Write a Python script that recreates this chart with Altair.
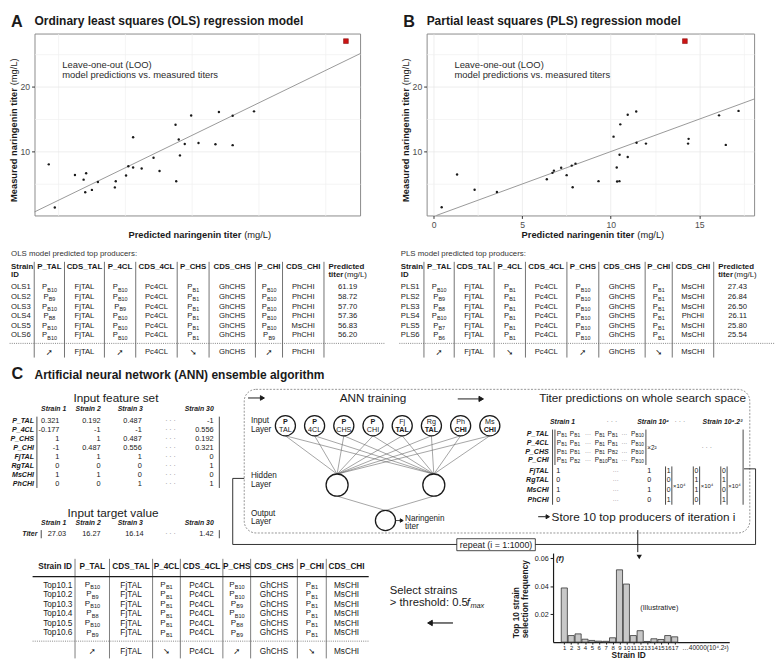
import altair as alt
import pandas as pd

FONT = "Liberation Sans"
SYM = "DejaVu Sans"
SX, SY = 0.975, 0.975
INK = "#1a1a1a"
ORIGIN_X = 26  # reference x of panel A's plot area; every row shares this origin

# ================= DATA =================
# Panel A / B : leave-one-out predicted vs measured naringenin titer (mg/L)
ols_predicted = [1.77, 2.22, 3.73, 4.38, 4.57, 4.50, 5.00, 5.45, 6.72, 6.79,
                 7.56, 7.73, 8.09, 8.09, 8.73, 9.62, 10.07, 11.27, 11.32, 11.51,
                 11.60, 11.96, 12.44, 12.99, 14.26, 14.52, 15.55, 15.55, 17.15]
ols_measured = [8.03, 1.38, 6.40, 5.67, 6.65, 3.74, 4.09, 5.32, 4.48, 5.42,
                6.31, 7.73, 7.54, 12.20, 7.39, 9.06, 7.00, 14.14, 5.42, 11.87,
                9.41, 11.18, 15.57, 11.33, 11.13, 16.10, 15.52, 10.99, 16.20]
pls_predicted = [0.45, 1.32, 2.31, 3.57, 6.39, 6.71, 6.79, 7.20, 7.51, 7.80,
                 7.85, 8.01, 9.31, 10.16, 10.34, 10.36, 10.49, 10.50, 10.54, 10.96,
                 10.96, 11.44, 11.46, 11.99, 14.37, 14.40, 16.12, 16.50, 17.22]
pls_measured = [1.42, 6.47, 4.12, 3.77, 5.74, 6.72, 7.06, 7.50, 6.37, 7.84,
                4.51, 8.14, 5.44, 12.30, 7.55, 5.39, 5.44, 9.51, 14.20, 9.17,
                15.69, 16.18, 11.37, 11.23, 11.23, 11.96, 15.59, 11.03, 16.27]
best_measured = 27.03
ols_best_predicted = 24.04
pls_best_predicted = 14.19

# Tables
table_headers = ["P_TAL", "CDS_TAL", "P_4CL", "CDS_4CL", "P_CHS", "CDS_CHS", "P_CHI", "CDS_CHI"]
ols_rows = [
    ["OLS1", "B10", "FjTAL", "B10", "Pc4CL", "B1", "GhCHS", "B10", "PhCHI", "61.19"],
    ["OLS2", "B9", "FjTAL", "B10", "Pc4CL", "B1", "GhCHS", "B10", "PhCHI", "58.72"],
    ["OLS3", "B10", "FjTAL", "B9", "Pc4CL", "B1", "GhCHS", "B10", "PhCHI", "57.70"],
    ["OLS4", "B8", "FjTAL", "B10", "Pc4CL", "B1", "GhCHS", "B10", "PhCHI", "57.36"],
    ["OLS5", "B10", "FjTAL", "B10", "Pc4CL", "B1", "GhCHS", "B10", "MsCHI", "56.83"],
    ["OLS6", "B10", "FjTAL", "B10", "Pc4CL", "B1", "GhCHS", "B9", "PhCHI", "56.20"],
]
ols_trend = ["up", "FjTAL", "up", "Pc4CL", "down", "GhCHS", "up", "PhCHI"]
pls_rows = [
    ["PLS1", "B10", "FjTAL", "B1", "Pc4CL", "B10", "GhCHS", "B1", "MsCHI", "27.43"],
    ["PLS2", "B9", "FjTAL", "B1", "Pc4CL", "B10", "GhCHS", "B1", "MsCHI", "26.84"],
    ["PLS3", "B8", "FjTAL", "B1", "Pc4CL", "B10", "GhCHS", "B1", "MsCHI", "26.50"],
    ["PLS4", "B10", "FjTAL", "B1", "Pc4CL", "B10", "GhCHS", "B1", "PhCHI", "26.11"],
    ["PLS5", "B7", "FjTAL", "B1", "Pc4CL", "B10", "GhCHS", "B1", "MsCHI", "25.80"],
    ["PLS6", "B6", "FjTAL", "B1", "Pc4CL", "B10", "GhCHS", "B1", "MsCHI", "25.54"],
]
pls_trend = ["up", "FjTAL", "down", "Pc4CL", "up", "GhCHS", "down", "MsCHI"]
ann_rows = [
    ["Top10.1", "B10", "FjTAL", "B1", "Pc4CL", "B10", "GhCHS", "B1", "MsCHI"],
    ["Top10.2", "B9", "FjTAL", "B1", "Pc4CL", "B10", "GhCHS", "B1", "MsCHI"],
    ["Top10.3", "B10", "FjTAL", "B1", "Pc4CL", "B9", "GhCHS", "B1", "MsCHI"],
    ["Top10.4", "B8", "FjTAL", "B1", "Pc4CL", "B10", "GhCHS", "B1", "MsCHI"],
    ["Top10.5", "B10", "FjTAL", "B1", "Pc4CL", "B8", "GhCHS", "B1", "MsCHI"],
    ["Top10.6", "B9", "FjTAL", "B1", "Pc4CL", "B9", "GhCHS", "B1", "MsCHI"],
]
ann_trend = ["up", "FjTAL", "down", "Pc4CL", "up", "GhCHS", "down", "MsCHI"]

# Panel C input feature set
feature_names = ["P_TAL", "P_4CL", "P_CHS", "P_CHI", "FjTAL", "RgTAL", "MsCHI", "PhCHI"]
strain_headers = ["Strain 1", "Strain 2", "Strain 3", "Strain 30"]
strain1 = [0.321, -0.177, 1, -1, 1, 0, 1, 0]
strain2 = [0.192, -1, 1, 0.487, 1, 0, 1, 0]
strain3 = [0.487, -1, 0.487, 0.556, 1, 0, 0, 1]
strain30 = [-1, 0.556, 0.192, 0.321, 0, 1, 0, 1]
target_titers = [27.03, 16.27, 16.14, 1.42]

node_labels = [("P", "TAL", True), ("P", "4CL", True), ("P", "CHS", True), ("P", "CHI", True),
               ("Fj", "TAL", False), ("Rg", "TAL", False), ("Ph", "CHI", False), ("Ms", "CHI", False)]
space_promoters = [["B1", "B1", "B1", "B1", "B10"],
                   ["B1", "B1", "B1", "B1", "B10"],
                   ["B1", "B1", "B1", "B2", "B10"],
                   ["B1", "B2", "B10", "B1", "B10"]]
space_binary_first = [1, 0, 1, 0]
space_binary_last = [1, 0, 1, 0]
space_vectors = [[1, 0, 0, 1], [0, 1, 1, 0], [0, 1, 0, 1]]

# Selection frequency (illustrative)
strain_ids = list(range(1, 18))
selection_freq = [0.0388, 0.0047, 0.0059, 0.0021, 0.0012, 0.0007, 0.0006, 0.0031, 0.0518,
                  0.0416, 0.0047, 0.0082, 0.0005, 0.0024, 0.0019, 0.0047, 0.0038]

ARROWS = {"up": "\u279a", "down": "\u2798"}


def fmt(v):
    return f"{v:g}"


# ================= canvas helper =================
class Canvas:
    def __init__(self, y0, w, h):
        self.x0, self.y0 = ORIGIN_X, y0
        self.W, self.H = w * SX, h * SY
        self.texts, self.segs, self.paths, self.points, self.rects = [], [], [], [], []

    def X(self, x):
        return (x - self.x0) * SX

    def Y(self, y):
        return (y - self.y0) * SY

    def text(self, x, y, s, size=7.6, weight="normal", style="normal", align="left",
             baseline="middle", color=INK, angle=0, font=FONT):
        self.texts.append({"x": self.X(x), "y": self.Y(y), "s": s, "size": size, "color": color,
                           "k": (weight, style, align, baseline, angle, font)})

    def seg(self, x1, y1, x2, y2, color=INK, width=0.8, dash=None):
        self.segs.append({"x": self.X(x1), "y": self.Y(y1), "x2": self.X(x2), "y2": self.Y(y2),
                          "k": (color, width, tuple(dash) if dash else ())})

    def path(self, pts, color=INK, width=0.8, dash=None, interp="linear"):
        gid = len(self.paths)
        self.paths.append(([{"x": self.X(x), "y": self.Y(y), "o": i, "g": gid}
                            for i, (x, y) in enumerate(pts)],
                           (color, width, tuple(dash) if dash else (), interp)))

    def point(self, x, y, shape="circle", size=30, fill=INK, stroke=INK, sw=1.0):
        self.points.append({"x": self.X(x), "y": self.Y(y), "size": size,
                            "k": (shape, fill, stroke, sw)})

    def rect(self, x1, y1, x2, y2, fill="white", fo=1.0, stroke=INK, sw=0.8, dash=None, radius=0):
        self.rects.append({"x": self.X(x1), "y": self.Y(y1), "x2": self.X(x2), "y2": self.Y(y2),
                           "k": (fill, fo, stroke, sw, tuple(dash) if dash else (), radius)})

    def chart(self):
        xs = alt.Scale(domain=[0, self.W], range=[0, self.W], nice=False, zero=False)
        ys = alt.Scale(domain=[0, self.H], range=[0, self.H], nice=False, zero=False)
        X = alt.X("x:Q", scale=xs, axis=None)
        Y = alt.Y("y:Q", scale=ys, axis=None)
        layers = []

        def grouped(items):
            g = {}
            for it in items:
                g.setdefault(it["k"], []).append({k: v for k, v in it.items() if k != "k"})
            return g

        for (fill, fo, stroke, sw, dash, rad), items in grouped(self.rects).items():
            kw = dict(fill=fill, fillOpacity=fo, stroke=stroke, strokeWidth=sw, cornerRadius=rad)
            if dash:
                kw["strokeDash"] = list(dash)
            layers.append(alt.Chart(pd.DataFrame(items)).mark_rect(**kw).encode(
                x=X, y=Y, x2="x2:Q", y2="y2:Q"))
        for (color, width, dash), items in grouped(self.segs).items():
            kw = dict(color=color, strokeWidth=width)
            if dash:
                kw["strokeDash"] = list(dash)
            layers.append(alt.Chart(pd.DataFrame(items)).mark_rule(**kw).encode(
                x=X, y=Y, x2="x2:Q", y2="y2:Q"))
        pg = {}
        for pts, key in self.paths:
            pg.setdefault(key, []).extend(pts)
        for (color, width, dash, interp), items in pg.items():
            kw = dict(color=color, strokeWidth=width, interpolate=interp)
            if dash:
                kw["strokeDash"] = list(dash)
            layers.append(alt.Chart(pd.DataFrame(items)).mark_line(**kw).encode(
                x=X, y=Y, detail="g:N", order="o:Q"))
        for (shape, fill, stroke, sw), items in grouped(self.points).items():
            layers.append(alt.Chart(pd.DataFrame(items)).mark_point(
                shape=shape, filled=True, fill=fill, stroke=stroke, strokeWidth=sw, opacity=1,
                fillOpacity=1).encode(x=X, y=Y, size=alt.Size("size:Q", scale=None)))
        for (weight, style, align, baseline, angle, font), items in grouped(self.texts).items():
            layers.append(alt.Chart(pd.DataFrame(items)).mark_text(
                font=font, fontWeight=weight, fontStyle=style, align=align, baseline=baseline,
                angle=angle).encode(x=X, y=Y, text="s:N",
                                    size=alt.Size("size:Q", scale=None),
                                    color=alt.Color("color:N", scale=None)))
        return alt.layer(*layers).properties(width=self.W, height=self.H)


def prom_width(sub, size, sub_size):
    return 0.667 * size + 0.3 + (0.667 + 0.556 * (len(sub) - 1)) * sub_size


def promoter(cv, x, y, sub, size=7.8, sub_size=5.5, center=True):
    w = prom_width(sub, size, sub_size)
    x0 = x - w / 2 if center else x
    cv.text(x0, y, "P", size=size)
    cv.text(x0 + 0.667 * size + 0.3, y + size * 0.3, sub, size=sub_size)


# ================= ROW 1: scatter plots =================
def scatter(pred, meas, best_pred, xdom, xvals, w_ref, letter, title):
    w, h = w_ref * SX, 190 * SY
    ydom = [0.15, 28.2]
    xsc = alt.Scale(domain=xdom, nice=False, zero=False)
    ysc = alt.Scale(domain=ydom, nice=False, zero=False)
    mx = "datum.value % 5 === 0"
    my = "datum.value % 10 === 0"
    common = dict(title=None, domain=False, tickSize=3, tickColor="#333", labelColor="#4d4d4d",
                  labelFontSize=8.8, labelPadding=2, labelFont=FONT, gridWidth=0.7,
                  labelFlush=False)
    xaxis = alt.Axis(values=xvals, labelExpr=f"{mx} ? datum.label : ''",
                     tickOpacity={"condition": {"test": mx, "value": 1}, "value": 0},
                     gridColor={"condition": {"test": mx, "value": "#e4e4e4"}, "value": "#f1f1f1"},
                     **common)
    yaxis = alt.Axis(values=[5, 10, 15, 20, 25], labelExpr=f"{my} ? datum.label : ''",
                     tickOpacity={"condition": {"test": my, "value": 1}, "value": 0},
                     gridColor={"condition": {"test": my, "value": "#e4e4e4"}, "value": "#f1f1f1"},
                     **common)
    pts = alt.Chart(pd.DataFrame({"pred": pred, "meas": meas})).mark_circle(
        size=6, color="#1a1a1a", opacity=1).encode(
        x=alt.X("pred:Q", scale=xsc, axis=xaxis), y=alt.Y("meas:Q", scale=ysc, axis=yaxis))
    lo, hi = max(xdom[0], ydom[0]), min(xdom[1], ydom[1])
    line = alt.Chart(pd.DataFrame({"pred": [lo, hi], "meas": [lo, hi]})).mark_line(
        color="#8c8c8c", strokeWidth=0.9).encode(x="pred:Q", y="meas:Q")
    best = alt.Chart(pd.DataFrame({"pred": [best_pred], "meas": [best_measured]})).mark_square(
        size=24, color="#cc1414", opacity=1, stroke="#7a0000", strokeWidth=0.5).encode(
        x="pred:Q", y="meas:Q")
    one = pd.DataFrame({"t": [0]})

    def tx(x, y, s, size, weight="normal", align="left", baseline="middle", angle=0, color=INK):
        return alt.Chart(one).mark_text(font=FONT, fontSize=size, fontWeight=weight, align=align,
                                        baseline=baseline, angle=angle, color=color).encode(
            x=alt.value(x * SX), y=alt.value(y * SY), text=alt.value(s))

    junc_x = w_ref / 2 + 47
    texts = [
        tx(-24.5, -6.5, letter, 16.5, "bold", baseline="alphabetic"),
        tx(0, -9, title, 12.2, "bold", baseline="alphabetic"),
        tx(29, 32.8, "Leave-one-out (LOO)", 9.6, color="#2b2b2b"),
        tx(29, 43.4, "model predictions vs. measured titers", 9.6, color="#2b2b2b"),
        tx(junc_x - 1, 210, "Predicted naringenin titer", 9.5, "bold", align="right"),
        tx(junc_x + 2, 210, "(mg/L)", 9.5, align="left"),
        tx(-21.3, 57, "Measured naringenin titer", 9.5, "bold", align="right", angle=270),
        tx(-21.3, 54, "(mg/L)", 9.5, align="left", angle=270),
    ]
    return alt.layer(line, pts, best, *texts).properties(
        width=w, height=h, view=alt.ViewBackground(stroke="#8a8a8a", strokeWidth=1))


chart_a = scatter(ols_predicted, ols_measured, ols_best_predicted, [0.7, 25.1],
                  [2.5, 5, 7.5, 10, 12.5, 15, 17.5, 20, 22.5, 25], 340, "A",
                  "Ordinary least squares (OLS) regression model")
chart_b = scatter(pls_predicted, pls_measured, pls_best_predicted, [-0.4, 18.1],
                  [0, 2.5, 5, 7.5, 10, 12.5, 15, 17.5], 342, "B",
                  "Partial least squares (PLS) regression model")
b_left_overflow = 21.3 * SX + 4.75
a_right_overflow = 3.5
row1_spacing = (435 - 26) * SX - 340 * SX - a_right_overflow - b_left_overflow
row1 = alt.hconcat(chart_a, chart_b, spacing=row1_spacing)

# ================= ROW 2: OLS / PLS tables =================
cv2 = Canvas(234.5, 784 - ORIGIN_X, 362 - 234.5)
COL_LINES = [25.7, 57.3, 99.0, 131.7, 175.0, 208.3, 256.7, 285.0, 328.3]


def model_table(cv, ox, caption, rows, trend):
    lines = [ox + v for v in COL_LINES]
    centers = [(lines[i] + lines[i + 1]) / 2 for i in range(8)]
    cv.text(ox + 1.5, 249, caption, size=8, color="#333")
    cv.text(ox + 1.5, 263, "Strain", size=8, weight="bold")
    cv.text(ox + 1.5, 271.5, "ID", size=8, weight="bold")
    for c, hname in zip(centers, table_headers):
        cv.text(c, 263, hname, size=8, weight="bold", align="center")
    cv.text(ox + 333, 263, "Predicted", size=8, weight="bold")
    cv.text(ox + 333, 271.5, "titer", size=8, weight="bold")
    cv.text(ox + 349.5, 271.5, "(mg/L)", size=8)
    for lx in lines:
        cv.seg(lx, 257.5, lx, 357.5, width=0.7, color="#333")
    for i, r in enumerate(rows):
        y = 284.3 + 10 * i
        cv.text(ox + 1.5, y, r[0], size=7.8)
        for j in range(8):
            if j % 2 == 0:
                promoter(cv, centers[j], y, r[1 + j])
            else:
                cv.text(centers[j], y, r[1 + j], size=7.8, align="center")
        cv.text(ox + 363, y, r[9], size=7.8, align="right")
    cv.seg(ox, 342.7, ox + 392, 342.7, dash=[1, 1.2], color="#666", width=0.8)
    for j, v in enumerate(trend):
        if j % 2 == 0:
            cv.text(centers[j], 351.7, ARROWS[v], size=8.5, align="center", font=SYM)
        else:
            cv.text(centers[j], 351.7, v, size=7.8, align="center")


model_table(cv2, 0, "OLS model predicted top producers:", ols_rows, ols_trend)
model_table(cv2, 407, "PLS model predicted top producers:", pls_rows, pls_trend)
row2 = cv2.chart()

# ================= ROW 3: panel C top =================
cv3 = Canvas(362, 784 - ORIGIN_X, 560 - 362)
cv3.text(2, 379.5, "C", size=16.5, weight="bold", baseline="alphabetic")
cv3.text(26, 379.5, "Artificial neural network (ANN) ensemble algorithm", size=12.2,
         weight="bold", baseline="alphabetic")

# input feature set
cv3.text(111, 399, "Input feature set", size=12, align="center")
hdr_x = [46, 82, 126, 198]
val_right = [52, 95, 138, 213]
for hx, s in zip(hdr_x, strain_headers):
    cv3.text(hx, 411, s, size=7, weight="bold", style="italic", align="center")
feature_cols = [strain1, strain2, strain3, strain30]
for i, name in enumerate(feature_names):
    y = 423 + 9.4 * i
    cv3.text(25.5, y, name, size=7.2, weight="bold", style="italic", align="right")
    for col, vr in zip(feature_cols, val_right):
        cv3.text(vr, y, fmt(col[i]), size=7.5, align="right")
    cv3.text(168, y, "\u00b7 \u00b7 \u00b7", size=7, align="center", color="#888")
cv3.seg(28.5, 418.5, 28.5, 493, width=0.8)
cv3.seg(219, 418.5, 219, 493, width=0.8)

cv3.text(108, 519, "Input target value", size=12, align="center")
for hx, s in zip(hdr_x, strain_headers):
    cv3.text(hx, 530, s, size=7, weight="bold", style="italic", align="center")
cv3.text(29, 541, "Titer", size=7.2, weight="bold", style="italic", align="right")
titer_right = [59, 95, 140, 213]
for t, vr in zip(target_titers, titer_right):
    cv3.text(vr, 541, f"{t:.2f}", size=7.5, align="right")
cv3.text(168, 541, "\u00b7 \u00b7 \u00b7", size=7, align="center", color="#888")
cv3.seg(33, 537, 33, 545.5, width=0.8)
cv3.seg(219, 537, 219, 545.5, width=0.8)

# dashed ANN box and repeat loop
cv3.rect(245, 390, 773, 540, fill="white", fo=0, stroke="#666", sw=0.7, dash=[2, 1.5], radius=12)
cv3.path([(245, 483), (233, 483), (233, 552), (467, 552)], width=0.9)
cv3.path([(549, 552), (779, 552), (779, 473), (767, 473)], width=0.9)
cv3.rect(467, 546, 549, 558.5, fill="white", stroke=INK, sw=0.8)
cv3.text(508, 552.3, "repeat (i = 1:1000)", size=9, align="center")
cv3.seg(249, 399, 262, 399, width=1)
cv3.point(264, 399, "triangle-right", 22)
cv3.text(379.5, 399, "ANN training", size=12, align="center")
cv3.seg(468, 400, 490, 400, width=1)
cv3.point(492.5, 400, "triangle-right", 28)
cv3.text(553, 399, "Titer predictions on whole search space", size=12)

# network
in_x = [288 + 30.5 * i for i in range(8)]
in_y = 428
hidden = [(342, 490), (443, 490)]
out_xy = (392.5, 527)
for x in in_x:
    for hx, hy in hidden:
        cv3.seg(x, in_y + 10.5, hx, hy - 11.5, color="#666", width=0.6)
for hx, hy in hidden:
    cv3.seg(hx, hy + 11.5, out_xy[0], out_xy[1] - 10.5, color="#666", width=0.6)
for x in in_x:
    cv3.point(x, in_y, "circle", (21 * SX) ** 2, fill="white", stroke=INK, sw=1.3)
for hx, hy in hidden:
    cv3.point(hx, hy, "circle", (23 * SX) ** 2, fill="white", stroke=INK, sw=1.3)
    cv3.path([(hx - 8, hy + 5), (hx - 4, hy + 4.3), (hx - 1.5, hy + 2), (hx, hy),
              (hx + 1.5, hy - 2), (hx + 4, hy - 4.3), (hx + 8, hy - 5)], width=0.9,
             interp="monotone")
cv3.point(out_xy[0], out_xy[1], "circle", (21 * SX) ** 2, fill="white", stroke=INK, sw=1.3)
cv3.seg(out_xy[0] - 6.5, out_xy[1] + 6.5, out_xy[0] + 6.5, out_xy[1] - 6.5, width=0.8, color="#555")
cv3.seg(out_xy[0] + 11, out_xy[1], out_xy[0] + 16, out_xy[1], width=0.8)
cv3.point(out_xy[0] + 17, out_xy[1], "triangle-right", 12)
cv3.text(413, 525.5, "Naringenin", size=8.3)
cv3.text(413, 534, "titer", size=8.3)
for (a, b, top_bold), x in zip(node_labels, in_x):
    cv3.text(x, in_y - 3.8, a, size=7.3, weight="bold" if top_bold else "normal", align="center")
    cv3.text(x, in_y + 4.3, b, size=7.3, weight="normal" if top_bold else "bold", align="center")
for lbl, y in [("Input", 423), ("Layer", 432), ("Hidden", 481), ("Layer", 490),
               ("Output", 520), ("Layer", 529)]:
    cv3.text(252, y, lbl, size=8.3)

# search-space matrix
cv3.text(577.5, 424, "Strain 1", size=7, weight="bold", style="italic", align="center")
cv3.text(629, 424, "\u00b7 \u00b7 \u00b7", size=7, align="center", color="#888")
cv3.text(672, 424, "Strain 10\u2074", size=7, weight="bold", style="italic", align="center")
cv3.text(700, 424, "\u00b7 \u00b7 \u00b7", size=7, align="center", color="#888")
cv3.text(744.5, 424, "Strain 10\u2074.2\u00b2", size=7, weight="bold", style="italic", align="center")
mat_y = [436.7, 446, 455, 464.3, 475, 485, 495, 505.7]
for name, y in zip(feature_names, mat_y):
    cv3.text(563, y, name, size=7.2, weight="bold", style="italic", align="right")
cv3.seg(567, 432, 567, 510.5, width=0.8)
cv3.seg(569.5, 432, 569.5, 469, width=0.8)
prom_left = [571.5, 585, 611, 624.5, 649]
for r, y in enumerate(mat_y[:4]):
    for sub, xl in zip(space_promoters[r], prom_left):
        promoter(cv3, xl, y, sub, size=6.6, sub_size=4.8, center=False)
    cv3.text(604, y, "\u00b7\u00b7\u00b7", size=6, align="center", color="#666")
    cv3.text(642, y, "\u00b7\u00b7\u00b7", size=6, align="center", color="#666")
cv3.seg(664.5, 432, 664.5, 469, width=0.8)
cv3.text(666, 451, "\u00d72\u00b2", size=6.5)
cv3.text(728, 451, "\u00b7 \u00b7 \u00b7", size=7, align="center", color="#888")
for i, y in enumerate(mat_y[4:]):
    cv3.text(573, y, str(space_binary_first[i]), size=7.3, align="center")
    cv3.text(633, y, "\u00b7\u00b7\u00b7", size=6, align="center", color="#666")
    cv3.text(668, y, str(space_binary_last[i]), size=7.3, align="center")
vec_x = [688.3, 717.3, 746]
for vx, vec in zip(vec_x, space_vectors):
    cv3.seg(vx - 3.3, 470.5, vx - 3.3, 510.5, width=0.8)
    cv3.seg(vx + 3.3, 470.5, vx + 3.3, 510.5, width=0.8)
    for v, y in zip(vec, mat_y[4:]):
        cv3.text(vx, y, str(v), size=7, align="center")
    cv3.text(vx + 4.5, 491, "\u00d710\u2074", size=6)
cv3.seg(766, 432, 766, 510.5, width=0.8)
cv3.seg(552, 523, 560, 523, width=1)
cv3.point(562, 523, "triangle-right", 16)
cv3.text(566, 523, "Store 10 top producers of iteration i", size=12)
cv3.seg(656, 537, 656, 560, width=1)
row3 = cv3.chart()

# ================= ROW 4: top-10 table + frequency chart =================
bar_left_overflow = 39 * SX + 4.25
cv4_width_px = (566 - ORIGIN_X) * SX - bar_left_overflow
cv4 = Canvas(560, cv4_width_px / SX, 112)
T_LINES = [68.3, 104.3, 149.3, 178.3, 222.7, 251.7, 300.5, 330.7]
t_edges = T_LINES + [373]
t_centers = [(t_edges[i] + t_edges[i + 1]) / 2 for i in range(8)]
cv4.text(47.5, 574, "Strain ID", size=8.4, weight="bold", align="center")
for c, hname in zip(t_centers, table_headers):
    cv4.text(c, 574, hname, size=8.4, weight="bold", align="center")
for lx in T_LINES:
    cv4.seg(lx, 566, lx, 670, width=0.7, color="#444")
cv4.seg(24, 584.5, 375, 584.5, width=1.3)
for i, r in enumerate(ann_rows):
    y = 593 + 10 * i
    cv4.text(35, y, r[0], size=8.4)
    for j in range(8):
        if j % 2 == 0:
            promoter(cv4, t_centers[j], y, r[1 + j], size=8.2, sub_size=5.7)
        else:
            cv4.text(t_centers[j], y, r[1 + j], size=8.4, align="center")
cv4.seg(24, 652, 375, 652, dash=[1, 1.2], color="#666", width=0.8)
for j, v in enumerate(ann_trend):
    if j % 2 == 0:
        cv4.text(t_centers[j], 662, ARROWS[v], size=8.5, align="center", font=SYM)
    else:
        cv4.text(t_centers[j], 662, v, size=8.4, align="center")
cv4.text(397, 600, "Select strains", size=11.5)
cv4.text(397, 612, "> threshold: 0.5", size=11.5)
cv4.text(477.5, 612, "f", size=11.5, style="italic")
cv4.text(481.2, 615, "max", size=7.5, style="italic")
cv4.seg(463, 633, 441, 633, width=1.2)
cv4.point(439, 633, "triangle-left", 30)
row4_left = cv4.chart()

bw, bh = (750 - 566) * SX, (653 - 560) * SY
bar_x = alt.Scale(domain=[0.083, 24.2], nice=False, zero=False)
bar_y = alt.Scale(domain=[0, 0.0638], nice=False, zero=True)
bars = alt.Chart(pd.DataFrame({"strain": strain_ids, "freq": selection_freq})).mark_bar(
    size=6.4 * SX, fill="#c8c8c8", stroke="#333", strokeWidth=0.8).encode(
    x=alt.X("strain:Q", scale=bar_x,
            axis=alt.Axis(values=strain_ids, title=None, labelFontSize=6.1, tickSize=2,
                          domainColor=INK, domainWidth=1.2, tickColor=INK, labelPadding=1,
                          grid=False, labelFont=FONT, labelColor=INK, labelOverlap=False,
                          labelFlush=False)),
    y=alt.Y("freq:Q", scale=bar_y,
            axis=alt.Axis(values=[0.02, 0.04, 0.06], format=".2f", title=None, labelFontSize=7.3,
                          tickSize=3, domainColor=INK, domainWidth=1.2, tickColor=INK,
                          labelPadding=2, grid=False, labelFont=FONT, labelColor=INK)))
one = pd.DataFrame({"t": [0]})


def btx(x, y, s, size, weight="normal", style="normal", align="left", baseline="middle", angle=0):
    return alt.Chart(one).mark_text(font=FONT, fontSize=size, fontWeight=weight, fontStyle=style,
                                    align=align, baseline=baseline, angle=angle, color=INK).encode(
        x=alt.value(x), y=alt.value(y), text=alt.value(s))


bar_texts = [
    btx(3 * SX, 6 * SY, "(f)", 8, weight="bold", style="italic"),
    btx(111 * SX, 57 * SY, "(Illustrative)", 7.5, align="center"),
    btx(135 * SX, bh + 3, "\u202640000(10\u2074.2\u00b2)", 6.6, baseline="top"),
    btx(79 * SX, 107 * SY, "Strain ID", 8.5, weight="bold", align="center"),
    btx(-39 * SX, 89 * SY, "Top 10 strain", 8.5, weight="bold", align="left", angle=270),
    btx(-29 * SX, 89 * SY, "selection frequency", 8.5, weight="bold", align="left", angle=270),
]
arrow_head = alt.Chart(one).mark_point(shape="triangle-down", filled=True, color=INK, size=30,
                                       opacity=1).encode(x=alt.value(90 * SX), y=alt.value(4))
bar_chart = alt.layer(bars, arrow_head, *bar_texts).properties(width=bw, height=bh)
row4 = alt.hconcat(row4_left, bar_chart, spacing=0)

chart = alt.vconcat(row1, row2, row3, row4, spacing=0).properties(
    padding={"left": 0, "top": 0, "right": 0, "bottom": 0}
).configure_view(stroke=None).configure_axis(labelFont=FONT, titleFont=FONT)

chart.save("out.html", embed_options={"renderer": "svg", "actions": False})
